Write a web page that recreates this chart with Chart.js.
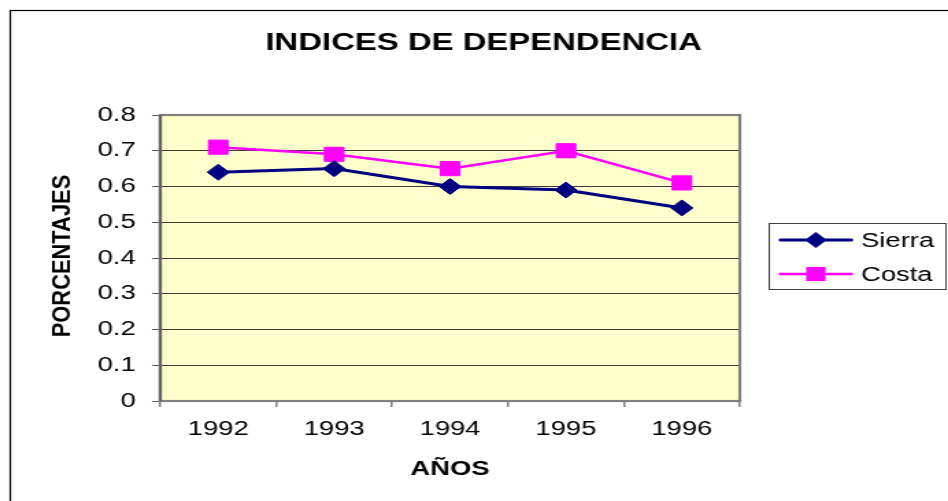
<!DOCTYPE html>
<html>
<head>
<meta charset="utf-8">
<script src="https://cdn.jsdelivr.net/npm/chart.js@4/dist/chart.umd.min.js"></script>
<style>
  html, body { margin: 0; padding: 0; background: #fff; overflow: hidden; }
  #c { display: block; transform: scaleX(1.37); transform-origin: 0 0; }
</style>
</head>
<body>
<canvas id="c" width="692" height="501"></canvas>
<script>
// the source picture is stretched sideways, so the canvas is drawn narrow and scaled with css
var years = ['1992', '1993', '1994', '1995', '1996'];
var sierra = [0.64, 0.65, 0.60, 0.59, 0.54];
var costa = [0.71, 0.69, 0.65, 0.70, 0.61];
var yLabels = ['0', '0.1', '0.2', '0.3', '0.4', '0.5', '0.6', '0.7', '0.8'];

var FONT = '"Liberation Sans", Arial, sans-serif';
Chart.defaults.font.family = FONT;
Chart.defaults.color = '#000';

// plot background + outer chart border
var backPlugin = {
    id: 'back',
    beforeDraw: function(chart) {
        var ctx = chart.ctx, a = chart.chartArea;
        ctx.save();
        ctx.fillStyle = '#fff';
        ctx.fillRect(0, 0, chart.width, chart.height);
        ctx.strokeStyle = '#000';
        ctx.lineWidth = 1.2;
        ctx.strokeRect(7.5, 10.5, 900, 700);
        ctx.fillStyle = '#FFFFCC';
        ctx.fillRect(a.left, a.top, a.right - a.left, a.bottom - a.top);
        ctx.restore();
    },
    beforeDatasetsDraw: function(chart) {
        var ctx = chart.ctx, a = chart.chartArea;
        ctx.save();
        ctx.strokeStyle = '#808080';
        ctx.lineWidth = 2.2;
        ctx.strokeRect(a.left, a.top, a.right - a.left, a.bottom - a.top);
        ctx.strokeStyle = '#606060';
        ctx.beginPath();
        ctx.moveTo(a.left, a.top);
        ctx.lineTo(a.left, a.bottom);
        ctx.stroke();
        ctx.restore();
    }
};

function marker(ctx, style, x, y, r, color) {
    ctx.fillStyle = color;
    ctx.beginPath();
    if (style === 'rectRot') {
        ctx.moveTo(x - r, y);
        ctx.lineTo(x, y - r);
        ctx.lineTo(x + r, y);
        ctx.lineTo(x, y + r);
    } else {
        var h = r * Math.SQRT1_2;
        ctx.rect(x - h, y - h, 2 * h, 2 * h);
    }
    ctx.closePath();
    ctx.fill();
}

// title, rotated y title and the boxed legend
var textPlugin = {
    id: 'texts',
    afterDraw: function(chart) {
        var ctx = chart.ctx;
        ctx.save();
        ctx.fillStyle = '#000';
        ctx.font = 'bold 24px ' + FONT;
        ctx.textAlign = 'center';
        ctx.textBaseline = 'alphabetic';
        ctx.fillText('INDICES DE DEPENDENCIA', 353, 50);

        ctx.save();
        ctx.translate(46.5, 256);
        ctx.rotate(-Math.PI / 2);
        ctx.scale(1.25, 1);
        ctx.font = 'bold 17.5px ' + FONT;
        ctx.textBaseline = 'middle';
        ctx.fillText('PORCENTAJES', 0, 0);
        ctx.restore();

        ctx.strokeStyle = '#404040';
        ctx.lineWidth = 1;
        ctx.strokeRect(561.5, 223.5, 129, 66);
        var rows = [240, 274];
        chart.data.datasets.forEach(function(ds, i) {
            var y = rows[i];
            ctx.strokeStyle = ds.borderColor;
            ctx.lineWidth = ds.borderWidth;
            ctx.beginPath();
            ctx.moveTo(568.5, y);
            ctx.lineTo(622.5, y);
            ctx.stroke();
            marker(ctx, ds.pointStyle, 595.5, y, ds.pointRadius, ds.borderColor);
            ctx.fillStyle = '#000';
            ctx.font = '20px ' + FONT;
            ctx.textAlign = 'left';
            ctx.textBaseline = 'middle';
            ctx.fillText(ds.label, 628.5, y + 1);
        });
        ctx.restore();
    }
};

var ctx = document.getElementById('c').getContext('2d');
var myChart = new Chart(ctx, {
    type: 'line',
    data: {
        labels: years,
        datasets: [{
            label: 'Sierra',
            data: sierra,
            borderColor: '#000080',
            backgroundColor: '#000080',
            borderWidth: 3,
            pointStyle: 'rectRot',
            pointRadius: 8,
            pointBackgroundColor: '#000080',
            pointBorderColor: '#000080',
            pointBorderWidth: 1,
            tension: 0
        }, {
            label: 'Costa',
            data: costa,
            borderColor: '#FF00FF',
            backgroundColor: '#FF00FF',
            borderWidth: 2.5,
            pointStyle: 'rect',
            pointRadius: 10,
            pointBackgroundColor: '#FF00FF',
            pointBorderColor: '#FF00FF',
            pointBorderWidth: 1,
            tension: 0
        }]
    },
    options: {
        responsive: false,
        animation: false,
        devicePixelRatio: 1,
        layout: { padding: { left: 0, right: 152, top: 115, bottom: 0 } },
        plugins: {
            legend: { display: false },
            title: { display: false },
            tooltip: { enabled: false }
        },
        scales: {
            x: {
                offset: true,
                grid: { offset: true, drawOnChartArea: false, tickLength: 6, color: '#808080', lineWidth: 1.5 },
                border: { display: false },
                ticks: { font: { size: 20 }, color: '#000', padding: 10, maxRotation: 0 },
                title: { display: true, text: 'AÑOS', font: { size: 20, weight: 'bold' }, color: '#000', padding: { top: 0, bottom: 20 } },
                afterFit: function(s) { s.height = 100; }
            },
            y: {
                min: 0,
                max: 0.8,
                ticks: {
                    stepSize: 0.1,
                    font: { size: 20 },
                    color: '#000',
                    padding: 12,
                    callback: function(v, i) { return yLabels[i]; }
                },
                grid: { color: '#3a3a3a', tickColor: '#606060', tickLength: 6, lineWidth: 1 },
                border: { display: false },
                afterFit: function(s) { s.width = 117; }
            }
        }
    },
    plugins: [backPlugin, textPlugin]
});
</script>
</body>
</html>
